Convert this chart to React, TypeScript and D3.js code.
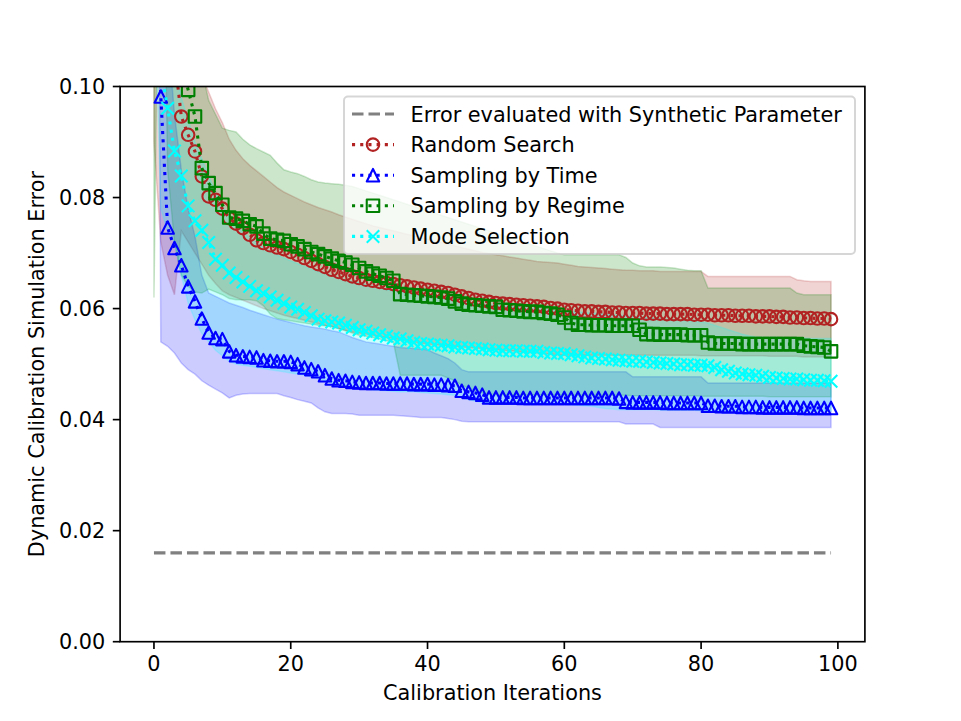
import * as d3 from 'd3'

// mean of best-so-far error per calibration iteration (index = iteration 0..99)
const randomMean = [
  0.150, 0.130, 0.115, 0.1054, 0.0946, 0.0913, 0.0883, 0.0838, 0.0802, 0.0796,
  0.0780, 0.0763, 0.0753, 0.0745, 0.0733, 0.0723, 0.0718, 0.0714, 0.0710, 0.0707,
  0.0702, 0.0697, 0.0691, 0.0686, 0.0680, 0.0675, 0.0670, 0.0666, 0.0662, 0.0658,
  0.0655, 0.0652, 0.0650, 0.0648, 0.0646, 0.0644, 0.0642, 0.0640, 0.0638, 0.0636,
  0.0634, 0.0632, 0.0630, 0.0628, 0.0625, 0.0622, 0.0619, 0.0616, 0.0614, 0.0612,
  0.0610, 0.0609, 0.0608, 0.0607, 0.0606, 0.0605, 0.0604, 0.0603, 0.0601, 0.0600,
  0.0598, 0.0597, 0.0596, 0.0595, 0.0595, 0.0594, 0.0594, 0.0593, 0.0593, 0.0592,
  0.0592, 0.0592, 0.0591, 0.0591, 0.0591, 0.0590, 0.0590, 0.0590, 0.0590, 0.0589,
  0.0589, 0.0589, 0.0588, 0.0588, 0.0588, 0.0587, 0.0587, 0.0587, 0.0586, 0.0586,
  0.0586, 0.0585, 0.0585, 0.0584, 0.0584, 0.0583, 0.0583, 0.0582, 0.0582, 0.0581,
]
const randomHi = [
  0.200, 0.180, 0.160, 0.140, 0.125, 0.115, 0.108, 0.102, 0.099, 0.096,
  0.0935, 0.0905, 0.0885, 0.0870, 0.0858, 0.0848, 0.0838, 0.0828, 0.0818, 0.0810,
  0.0804, 0.0798, 0.0792, 0.0787, 0.0782, 0.0778, 0.0774, 0.0769, 0.0765, 0.0761,
  0.0757, 0.0753, 0.0749, 0.0746, 0.0743, 0.0740, 0.0737, 0.0734, 0.0731, 0.0728,
  0.0725, 0.0722, 0.0719, 0.0716, 0.0713, 0.0710, 0.0707, 0.0704, 0.0701, 0.0699,
  0.0697, 0.0695, 0.0693, 0.0691, 0.0689, 0.0687, 0.0685, 0.0684, 0.0683, 0.0682,
  0.0680, 0.0678, 0.0676, 0.0675, 0.0674, 0.0673, 0.0672, 0.0671, 0.0670, 0.0669,
  0.0669, 0.0668, 0.0668, 0.0668, 0.0667, 0.0667, 0.0667, 0.0667, 0.0667, 0.0667,
  0.0667, 0.0658, 0.0658, 0.0658, 0.0658, 0.0658, 0.0658, 0.0658, 0.0658, 0.0658,
  0.0658, 0.0658, 0.0658, 0.0658, 0.0652, 0.0650, 0.0649, 0.0649, 0.0649, 0.0649,
]
const randomLo = [
  0.090, 0.072, 0.066, 0.0625, 0.074, 0.072, 0.070, 0.068, 0.066, 0.0645,
  0.0632, 0.0625, 0.0620, 0.0615, 0.0610, 0.0605, 0.0600, 0.0596, 0.0592, 0.0588,
  0.0585, 0.0582, 0.0579, 0.0576, 0.0573, 0.0570, 0.0567, 0.0564, 0.0561, 0.0558,
  0.0556, 0.0554, 0.0552, 0.0550, 0.0548, 0.0546, 0.0544, 0.0542, 0.0540, 0.0538,
  0.0536, 0.0535, 0.0534, 0.0533, 0.0532, 0.0531, 0.0530, 0.0529, 0.0528, 0.0527,
  0.0526, 0.0525, 0.0524, 0.0523, 0.0522, 0.0521, 0.0520, 0.0519, 0.0518, 0.0517,
  0.0516, 0.0516, 0.0516, 0.0516, 0.0516, 0.0516, 0.0516, 0.0516, 0.0516, 0.0516,
  0.0516, 0.0516, 0.0516, 0.0516, 0.0516, 0.0516, 0.0516, 0.0516, 0.0516, 0.0516,
  0.0515, 0.0515, 0.0515, 0.0515, 0.0515, 0.0515, 0.0515, 0.0515, 0.0515, 0.0515,
  0.0514, 0.0514, 0.0514, 0.0514, 0.0514, 0.0513, 0.0513, 0.0513, 0.0513, 0.0513,
]

const timeMean = [
  0.250, 0.0982, 0.0746, 0.0709, 0.0678, 0.0640, 0.0613, 0.0582, 0.0557, 0.0547,
  0.0545, 0.0523, 0.0516, 0.0514, 0.0513, 0.0512, 0.0507, 0.0506, 0.0505, 0.0505,
  0.0504, 0.0500, 0.0494, 0.0491, 0.0487, 0.0480, 0.0474, 0.0471, 0.0470, 0.0468,
  0.0467, 0.0466, 0.0466, 0.0466, 0.0465, 0.0465, 0.0465, 0.0465, 0.0464, 0.0464,
  0.0464, 0.0463, 0.0463, 0.0462, 0.0461, 0.0452, 0.0450, 0.0448, 0.0445, 0.0440,
  0.0440, 0.0440, 0.0440, 0.0440, 0.0439, 0.0439, 0.0439, 0.0439, 0.0439, 0.0439,
  0.0439, 0.0439, 0.0439, 0.0439, 0.0439, 0.0439, 0.0439, 0.0439, 0.0438, 0.0432,
  0.0431, 0.0431, 0.0431, 0.0431, 0.0431, 0.0430, 0.0430, 0.0430, 0.0430, 0.0430,
  0.0430, 0.0425, 0.0425, 0.0424, 0.0424, 0.0424, 0.0423, 0.0423, 0.0423, 0.0422,
  0.0422, 0.0422, 0.0422, 0.0422, 0.0422, 0.0421, 0.0421, 0.0421, 0.0421, 0.0421,
]
const timeHi = [
  0.350, 0.140, 0.110, 0.095, 0.085, 0.078, 0.073, 0.066, 0.0628, 0.0622,
  0.0616, 0.0610, 0.0606, 0.0602, 0.0597, 0.0593, 0.0589, 0.0585, 0.0581, 0.0578,
  0.0575, 0.0572, 0.0569, 0.0567, 0.0565, 0.0563, 0.0560, 0.0558, 0.0553, 0.0548,
  0.0544, 0.0540, 0.0538, 0.0536, 0.0534, 0.0532, 0.0530, 0.0529, 0.0528, 0.0527,
  0.0526, 0.0520, 0.0515, 0.0510, 0.0502, 0.0490, 0.0486, 0.0486, 0.0486, 0.0486,
  0.0486, 0.0486, 0.0486, 0.0486, 0.0486, 0.0486, 0.0486, 0.0486, 0.0486, 0.0486,
  0.0486, 0.0486, 0.0486, 0.0486, 0.0486, 0.0486, 0.0486, 0.0486, 0.0486, 0.0486,
  0.0477, 0.0477, 0.0477, 0.0477, 0.0477, 0.0477, 0.0477, 0.0477, 0.0477, 0.0477,
  0.0477, 0.0466, 0.0466, 0.0466, 0.0466, 0.0466, 0.0466, 0.0466, 0.0466, 0.0466,
  0.0466, 0.0466, 0.0466, 0.0466, 0.0466, 0.0466, 0.0466, 0.0466, 0.0466, 0.0466,
]
const timeLo = [
  0.300, 0.0540, 0.0532, 0.0520, 0.0502, 0.0490, 0.0482, 0.0470, 0.0462, 0.0455,
  0.0448, 0.0439, 0.0444, 0.0446, 0.0447, 0.0447, 0.0447, 0.0447, 0.0447, 0.0443,
  0.0440, 0.0436, 0.0433, 0.0430, 0.0421, 0.0414, 0.0411, 0.0411, 0.0411, 0.0410,
  0.0408, 0.0408, 0.0408, 0.0408, 0.0408, 0.0408, 0.0407, 0.0406, 0.0405, 0.0404,
  0.0404, 0.0404, 0.0404, 0.0402, 0.0400, 0.0397, 0.0396, 0.0396, 0.0396, 0.0396,
  0.0396, 0.0396, 0.0396, 0.0396, 0.0396, 0.0396, 0.0396, 0.0396, 0.0396, 0.0396,
  0.0396, 0.0396, 0.0396, 0.0396, 0.0396, 0.0396, 0.0396, 0.0396, 0.0396, 0.0392,
  0.0392, 0.0392, 0.0392, 0.0392, 0.0386, 0.0386, 0.0386, 0.0386, 0.0386, 0.0386,
  0.0386, 0.0386, 0.0386, 0.0386, 0.0386, 0.0386, 0.0386, 0.0386, 0.0386, 0.0386,
  0.0386, 0.0386, 0.0386, 0.0386, 0.0386, 0.0386, 0.0386, 0.0386, 0.0386, 0.0386,
]

const regimeMean = [
  0.160, 0.140, 0.125, 0.112, 0.104, 0.0994, 0.0946, 0.0853, 0.0826, 0.0808,
  0.0787, 0.0764, 0.0762, 0.0758, 0.0752, 0.0748, 0.0735, 0.0726, 0.0724, 0.0722,
  0.0716, 0.0712, 0.0707, 0.0702, 0.0698, 0.0694, 0.0690, 0.0686, 0.0683, 0.0679,
  0.0673, 0.0667, 0.0663, 0.0659, 0.0655, 0.0650, 0.0626, 0.0625, 0.0624, 0.0623,
  0.0622, 0.0621, 0.0620, 0.0618, 0.0613, 0.0609, 0.0607, 0.0606, 0.0605, 0.0604,
  0.0603, 0.0598, 0.0597, 0.0596, 0.0595, 0.0594, 0.0594, 0.0592, 0.0591, 0.0589,
  0.0584, 0.0574, 0.0571, 0.0571, 0.0570, 0.0570, 0.0570, 0.0569, 0.0569, 0.0569,
  0.0569, 0.0562, 0.0554, 0.0554, 0.0553, 0.0553, 0.0553, 0.0553, 0.0552, 0.0552,
  0.0552, 0.0539, 0.0537, 0.0537, 0.0537, 0.0537, 0.0536, 0.0536, 0.0536, 0.0536,
  0.0536, 0.0536, 0.0536, 0.0536, 0.0536, 0.0533, 0.0532, 0.0531, 0.0530, 0.0523,
]
const regimeHi = [
  0.200, 0.190, 0.170, 0.150, 0.135, 0.122, 0.112, 0.103, 0.0975, 0.0950,
  0.0925, 0.0921, 0.0918, 0.0905, 0.0895, 0.0888, 0.0882, 0.0876, 0.0862, 0.0850,
  0.0846, 0.0843, 0.0838, 0.0832, 0.0828, 0.0826, 0.0825, 0.0824, 0.0822, 0.0820,
  0.0816, 0.0812, 0.0808, 0.0804, 0.0800, 0.0796, 0.0792, 0.0788, 0.0784, 0.0780,
  0.0776, 0.0772, 0.0768, 0.0764, 0.0760, 0.0756, 0.0752, 0.0748, 0.0744, 0.0740,
  0.0736, 0.0732, 0.0728, 0.0724, 0.0720, 0.0716, 0.0712, 0.0708, 0.0704, 0.0700,
  0.0697, 0.0697, 0.0697, 0.0697, 0.0697, 0.0697, 0.0697, 0.0697, 0.0697, 0.0692,
  0.0682, 0.0677, 0.0675, 0.0675, 0.0675, 0.0674, 0.0673, 0.0671, 0.0669, 0.0668,
  0.0668, 0.0637, 0.0637, 0.0637, 0.0637, 0.0637, 0.0637, 0.0637, 0.0637, 0.0637,
  0.0637, 0.0637, 0.0637, 0.0637, 0.0628, 0.0625, 0.0625, 0.0625, 0.0625, 0.0625,
]
const regimeLo = [
  0.062, 0.160, 0.085, 0.072, 0.066, 0.064, 0.063, 0.0628, 0.0635, 0.0630,
  0.0625, 0.0618, 0.0616, 0.0616, 0.0616, 0.0614, 0.0605, 0.0590, 0.0582, 0.0580,
  0.0578, 0.0576, 0.0574, 0.0572, 0.0570, 0.0569, 0.0568, 0.0564, 0.0560, 0.0556,
  0.0552, 0.0550, 0.0548, 0.0545, 0.0542, 0.0540, 0.0480, 0.0480, 0.0480, 0.0480,
  0.0480, 0.0480, 0.0480, 0.0475, 0.0470, 0.0462, 0.0457, 0.0452, 0.0448, 0.0446,
  0.0445, 0.0445, 0.0445, 0.0445, 0.0445, 0.0445, 0.0445, 0.0445, 0.0445, 0.0445,
  0.0444, 0.0444, 0.0444, 0.0444, 0.0444, 0.0444, 0.0444, 0.0444, 0.0444, 0.0444,
  0.0443, 0.0443, 0.0443, 0.0443, 0.0443, 0.0443, 0.0443, 0.0443, 0.0443, 0.0443,
  0.0442, 0.0442, 0.0442, 0.0442, 0.0442, 0.0442, 0.0442, 0.0442, 0.0442, 0.0442,
  0.0441, 0.0441, 0.0441, 0.0441, 0.0441, 0.0441, 0.0441, 0.0441, 0.0441, 0.0441,
]

const modeMean = [
  0.160, 0.103, 0.0961, 0.0884, 0.0839, 0.0785, 0.0758, 0.0741, 0.0719, 0.0689,
  0.0678, 0.0664, 0.0656, 0.0648, 0.0640, 0.0632, 0.0627, 0.0621, 0.0615, 0.0609,
  0.0603, 0.0599, 0.0593, 0.0587, 0.0581, 0.0578, 0.0576, 0.0574, 0.0570, 0.0566,
  0.0562, 0.0559, 0.0556, 0.0553, 0.0550, 0.0547, 0.0545, 0.0542, 0.0539, 0.0537,
  0.0536, 0.0535, 0.0534, 0.0533, 0.0531, 0.0530, 0.0529, 0.0528, 0.0527, 0.0526,
  0.0525, 0.0524, 0.0524, 0.0524, 0.0523, 0.0523, 0.0523, 0.0521, 0.0520, 0.0519,
  0.0519, 0.0517, 0.0515, 0.0513, 0.0511, 0.0510, 0.0509, 0.0508, 0.0507, 0.0506,
  0.0505, 0.0505, 0.0504, 0.0503, 0.0502, 0.0501, 0.0500, 0.0499, 0.0499, 0.0498,
  0.0498, 0.0497, 0.0494, 0.0490, 0.0487, 0.0484, 0.0482, 0.0481, 0.0480, 0.0478,
  0.0476, 0.0475, 0.0474, 0.0473, 0.0473, 0.0472, 0.0471, 0.0471, 0.0470, 0.0469,
]
const modeHi = [
  0.160, 0.130, 0.115, 0.105, 0.098, 0.094, 0.090, 0.087, 0.084, 0.081,
  0.0785, 0.0765, 0.0750, 0.0738, 0.0728, 0.0718, 0.0710, 0.0703, 0.0697, 0.0691,
  0.0686, 0.0681, 0.0676, 0.0671, 0.0667, 0.0663, 0.0659, 0.0655, 0.0652, 0.0649,
  0.0646, 0.0643, 0.0640, 0.0637, 0.0634, 0.0632, 0.0630, 0.0628, 0.0626, 0.0624,
  0.0622, 0.0620, 0.0618, 0.0616, 0.0614, 0.0612, 0.0610, 0.0609, 0.0608, 0.0607,
  0.0606, 0.0605, 0.0604, 0.0603, 0.0602, 0.0601, 0.0600, 0.0599, 0.0598, 0.0597,
  0.0596, 0.0595, 0.0594, 0.0593, 0.0592, 0.0591, 0.0590, 0.0589, 0.0588, 0.0587,
  0.0586, 0.0585, 0.0584, 0.0583, 0.0582, 0.0581, 0.0580, 0.0579, 0.0578, 0.0577,
  0.0576, 0.0574, 0.0570, 0.0566, 0.0562, 0.0558, 0.0554, 0.0551, 0.0549, 0.0548,
  0.0548, 0.0548, 0.0547, 0.0547, 0.0547, 0.0547, 0.0546, 0.0546, 0.0546, 0.0546,
]
const modeLo = [
  0.120, 0.078, 0.074, 0.072, 0.066, 0.061, 0.058, 0.0555, 0.0540, 0.0525,
  0.0515, 0.0505, 0.0500, 0.0498, 0.0496, 0.0494, 0.0492, 0.0490, 0.0488, 0.0486,
  0.0484, 0.0482, 0.0480, 0.0477, 0.0474, 0.0470, 0.0466, 0.0463, 0.0460, 0.0458,
  0.0456, 0.0455, 0.0454, 0.0453, 0.0452, 0.0451, 0.0450, 0.0450, 0.0450, 0.0449,
  0.0448, 0.0447, 0.0446, 0.0445, 0.0444, 0.0440, 0.0436, 0.0433, 0.0431, 0.0430,
  0.0430, 0.0430, 0.0430, 0.0430, 0.0430, 0.0429, 0.0429, 0.0429, 0.0429, 0.0429,
  0.0428, 0.0427, 0.0426, 0.0425, 0.0424, 0.0422, 0.0420, 0.0419, 0.0418, 0.0418,
  0.0418, 0.0418, 0.0418, 0.0418, 0.0417, 0.0417, 0.0417, 0.0417, 0.0417, 0.0417,
  0.0416, 0.0416, 0.0416, 0.0416, 0.0416, 0.0416, 0.0416, 0.0416, 0.0416, 0.0416,
  0.0415, 0.0415, 0.0415, 0.0415, 0.0415, 0.0415, 0.0415, 0.0415, 0.0415, 0.0415,
]

// reference: error with the synthetic parameter, flat over all iterations
const syntheticError = [0.016, 0.016]
const syntheticSpan = [0, 99]

const xTicks = [0, 20, 40, 60, 80, 100]
const yTicks = [0, 0.02, 0.04, 0.06, 0.08, 0.1]

const W = 961
const H = 721
const FONT = '"DejaVu Sans", sans-serif'
const FS = 20.8
const frame = { left: 120.1, right: 864.9, top: 86.5, bottom: 641.7 }

const x = d3.scaleLinear().domain([-4.95, 103.95]).range([frame.left, frame.right])
const y = d3.scaleLinear().domain([0, 0.1]).range([frame.bottom, frame.top])

const MS = 12.5 // marker size
const LW = 3.1 // line width
const MEW = 2.1 // marker edge width

const series = [
  { name: 'Random Search', color: '#b22222', marker: 'o', mean: randomMean, lo: randomLo, hi: randomHi },
  { name: 'Sampling by Time', color: '#0000ff', marker: '^', mean: timeMean, lo: timeLo, hi: timeHi },
  { name: 'Sampling by Regime', color: '#008000', marker: 's', mean: regimeMean, lo: regimeLo, hi: regimeHi },
  { name: 'Mode Selection', color: '#00ffff', marker: 'x', mean: modeMean, lo: modeLo, hi: modeHi },
]

const band = (lo: number[], hi: number[]) =>
  d3.area<number>()
    .x((_, i) => x(i))
    .y0((_, i) => y(lo[i]))
    .y1((_, i) => y(hi[i]))(lo) || ''

const meanLine = d3.line<number>().x((_, i) => x(i)).y((d) => y(d))

const Marker = ({ kind, cx, cy, color }: { kind: string; cx: number; cy: number; color: string }) => {
  const h = MS / 2
  const common = { fill: 'none', stroke: color, strokeWidth: MEW, strokeLinejoin: 'round' as const }
  if (kind === 'o') return <circle cx={cx} cy={cy} r={h} {...common} />
  if (kind === '^') return <path d={`M${cx},${cy - h}L${cx + h},${cy + h}L${cx - h},${cy + h}Z`} {...common} />
  if (kind === 's') return <rect x={cx - h} y={cy - h} width={MS} height={MS} {...common} />
  return <path d={`M${cx - h},${cy - h}L${cx + h},${cy + h}M${cx - h},${cy + h}L${cx + h},${cy - h}`} {...common} />
}

export default function App() {
  const legendRows = [
    { name: 'Error evaluated with Synthetic Parameter', color: '#808080', marker: '', dash: '11.5,5' },
    ...series.map((s) => ({ name: s.name, color: s.color, marker: s.marker, dash: '3.1,5.1' })),
  ]
  const lg = { left: 344, top: 96.5, width: 511, height: 157.5, rowY: 114, pitch: 30.6 }

  return (
    <svg
      width={W}
      height={H}
      style={{ position: 'absolute', left: 0, top: 0, background: '#fff' }}
      fontFamily={FONT}
    >
      <defs>
        <clipPath id="plotArea">
          <rect x={frame.left} y={frame.top} width={frame.right - frame.left} height={frame.bottom - frame.top} />
        </clipPath>
      </defs>
      <rect width={W} height={H} fill="#fff" />

      <g clipPath="url(#plotArea)">
        {/* spread bands */}
        {series.map((s) => (
          <path key={s.name + '-band'} d={band(s.lo, s.hi)} fill={s.color} fillOpacity={0.2} stroke={s.color} strokeOpacity={0.2} strokeWidth={1.5} />
        ))}

        {/* synthetic parameter reference */}
        <path
          d={d3.line<number>().x((d) => x(d)).y((_, i) => y(syntheticError[i]))(syntheticSpan) || ''}
          fill="none"
          stroke="#808080"
          strokeWidth={LW}
          strokeDasharray="11.5,5"
        />

        {series.map((s) => (
          <g key={s.name}>
            <path d={meanLine(s.mean) || ''} fill="none" stroke={s.color} strokeWidth={LW} strokeDasharray="3.1,5.1" />
            {s.mean.map((v, i) => (
              <Marker key={i} kind={s.marker} cx={x(i)} cy={y(v)} color={s.color} />
            ))}
          </g>
        ))}
      </g>

      {/* axes frame */}
      <rect
        x={frame.left}
        y={frame.top}
        width={frame.right - frame.left}
        height={frame.bottom - frame.top}
        fill="none"
        stroke="#000"
        strokeWidth={1.67}
      />

      {xTicks.map((t) => (
        <g key={'x' + t}>
          <line x1={x(t)} x2={x(t)} y1={frame.bottom} y2={frame.bottom + 7.3} stroke="#000" strokeWidth={1.67} />
          <text x={x(t)} y={670.5} textAnchor="middle" fontSize={FS} fill="#000">
            {t}
          </text>
        </g>
      ))}
      {yTicks.map((t) => (
        <g key={'y' + t}>
          <line x1={frame.left - 7.3} x2={frame.left} y1={y(t)} y2={y(t)} stroke="#000" strokeWidth={1.67} />
          <text x={105.3} y={y(t) + 7.6} textAnchor="end" fontSize={FS} fill="#000">
            {d3.format('.2f')(t)}
          </text>
        </g>
      ))}

      <text x={(frame.left + frame.right) / 2} y={699.5} textAnchor="middle" fontSize={FS} fill="#000">
        Calibration Iterations
      </text>
      <text
        transform={`translate(44,${(frame.top + frame.bottom) / 2}) rotate(-90)`}
        textAnchor="middle"
        fontSize={FS}
        fill="#000"
      >
        Dynamic Calibration Simulation Error
      </text>

      {/* legend */}
      <rect
        x={lg.left}
        y={lg.top}
        width={lg.width}
        height={lg.height}
        rx={4}
        fill="#fff"
        fillOpacity={0.8}
        stroke="#cccccc"
        strokeOpacity={0.8}
        strokeWidth={2}
      />
      {legendRows.map((r, k) => {
        const cy = lg.rowY + k * lg.pitch
        return (
          <g key={r.name}>
            <line x1={352} x2={394} y1={cy} y2={cy} stroke={r.color} strokeWidth={LW} strokeDasharray={r.dash} />
            {r.marker && <Marker kind={r.marker} cx={373} cy={cy} color={r.color} />}
            <text x={410.5} y={cy + 7.6} fontSize={FS} fill="#000">
              {r.name}
            </text>
          </g>
        )
      })}
    </svg>
  )
}
